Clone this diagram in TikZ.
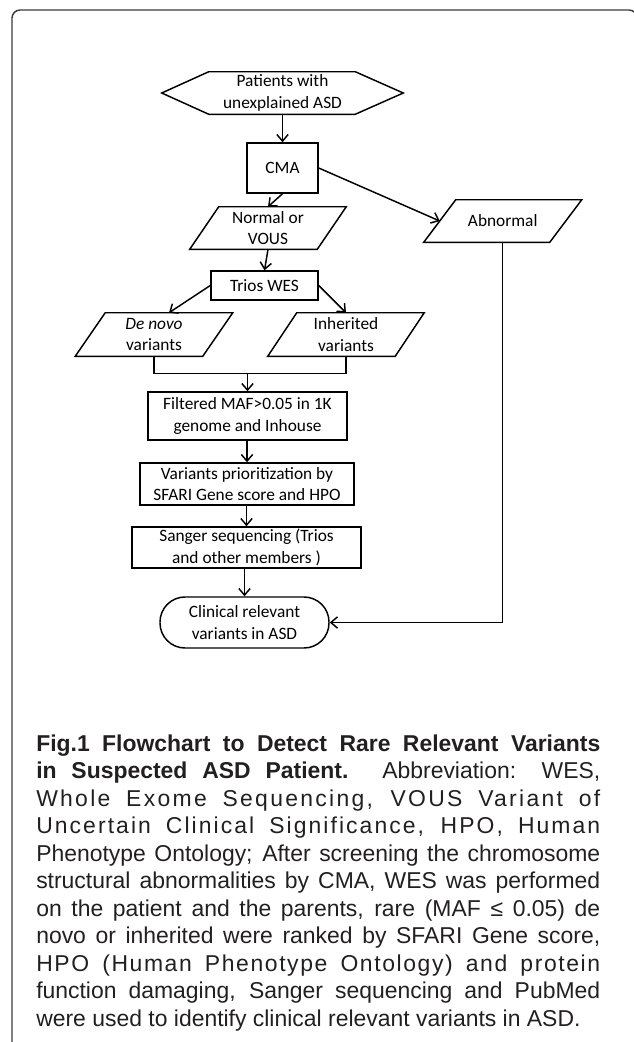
\documentclass[tikz,border=0pt]{standalone}
\usepackage{fontspec}
\setmainfont{Carlito}
\newfontfamily\capfont{Liberation Sans}
\usetikzlibrary{calc,arrows.meta}
\definecolor{capgray}{HTML}{231F20}
\definecolor{framegray}{HTML}{3C3C3C}
\newcommand\paral[2]{\draw[line] ($(#1.north west)+(#2,0)$) -- ($(#1.north east)+(#2,0)$) -- ($(#1.south east)+(-#2,0)$) -- ($(#1.south west)+(-#2,0)$) -- cycle;}
\newcommand\capw{423pt}
\begin{document}
\begin{tikzpicture}[x=0.75pt,y=-0.75pt,
  line/.style={line width=1.1pt, draw=black},
  arr/.style={line, -{Straight Barb[length=5pt,width=8.5pt,line width=1.1pt]}},
  sz/.style 2 args={minimum width=#1*0.75pt, minimum height=#2*0.75pt},
  txt/.style={inner sep=0pt, align=center, font=\fontsize{13}{16}\selectfont},
  box/.style={txt, draw, line width=1.1pt},
  capline/.style={anchor=base west, inner sep=0pt, text=capgray, font=\capfont\fontsize{17.2}{20}\selectfont},
]
\useasboundingbox (0,0) rectangle (633,1042);
% frame
\draw[framegray, line width=1.1pt, rounded corners=6pt] (12,1060) -- (12,10) -- (637,10) -- (637,40);

% nodes
\node[txt, sz={241}{42}] (pat) at (282.5,93) {Patients with\\unexplained ASD};
\draw[line] (pat.west) -- ($(pat.north west)+(47,0)$) -- ($(pat.north east)+(-48,0)$) -- (pat.east) -- ($(pat.south east)+(-48,0)$) -- ($(pat.south west)+(47,0)$) -- cycle;

\node[box, sz={71}{50}] (cma) at (282.5,168) {CMA};
\node[txt, sz={125.5}{42}] (abn) at (502.75,221) {Abnormal};
\paral{abn}{16}
\node[txt, sz={127}{42}] (nor) at (268,228) {Normal or\\VOUS};
\paral{nor}{14.5}
\node[box, sz={107}{29}] (trio) at (264.5,285.5) {Trios WES};
\node[txt, sz={127}{43}] (dn) at (154,334.5) {\textit{De novo}\\variants};
\paral{dn}{15}
\node[txt, sz={127}{43}] (inh) at (346,334.5) {Inherited\\variants};
\paral{inh}{14.5}
\node[box, sz={199}{48}] (filt) at (247.5,416) {Filtered MAF>0.05 in 1K\\genome and Inhouse};
\node[box, sz={214}{42}] (var) at (247,484) {Variants prioritization by\\SFARI Gene score and HPO};
\node[box, sz={229}{41}] (sang) at (246.5,547.5) {Sanger sequencing (Trios\\and other members )};
\node[box, sz={169}{51}, rounded corners=18.75pt] (clin) at (244.5,622.5) {Clinical relevant\\variants in ASD};

% connectors
\draw[arr] (pat.south) -- (cma.north);
\draw[arr] (cma.south) -- (nor.north);
\draw[arr] (cma.east) -- (abn.west);
\draw[arr] (nor.south) -- (trio.north);
\draw[arr] (trio.west) -- ($(dn.north)+(15,0)$);
\draw[arr] (trio.east) -- (inh.north);
\coordinate (jl) at ($(dn.south)+(0,17)$);
\coordinate (jm) at (filt.north |- jl);
\draw[line] (dn.south) -- (jl) -- (inh.south |- jl) -- (inh.south);
\draw[arr] (jm) -- (filt.north);
\draw[arr] (var.north |- filt.south) -- (var.north);
\draw[arr] (sang.north |- var.south) -- (sang.north);
\draw[arr] (clin.north |- sang.south) -- (clin.north);
\draw[arr] (abn.south) |- (clin.east);

% caption
\node[capline] (c1) at (36,751.0) {\makebox[\capw][s]{\bfseries Fig.1 Flowchart to Detect Rare Relevant Variants}};
\node[capline] (c2) at (36,778.5) {\makebox[\capw][s]{\textbf{in Suspected ASD Patient.} Abbreviation: WES,}};
\node[capline] (c3) at (36,806.0) {\makebox[\capw][s]{\addfontfeatures{LetterSpace=10}Whole Exome Sequencing, VOUS Variant of}};
\node[capline] (c4) at (36,833.5) {\makebox[\capw][s]{\addfontfeatures{LetterSpace=9}Uncertain Clinical Significance, HPO, Human}};
\node[capline] (c5) at (36,861.0) {\makebox[\capw][s]{Phenotype Ontology; After screening the chromosome}};
\node[capline] (c6) at (36,888.5) {\makebox[\capw][s]{structural abnormalities by CMA, WES was performed}};
\node[capline] (c7) at (36,916.0) {\makebox[\capw][s]{on the patient and the parents, rare (MAF ≤ 0.05) de}};
\node[capline] (c8) at (36,943.5) {\makebox[\capw][s]{novo or inherited were ranked by SFARI Gene score,}};
\node[capline] (c9) at (36,971.0) {\makebox[\capw][s]{\addfontfeatures{LetterSpace=7}HPO (Human Phenotype Ontology) and protein}};
\node[capline] (c10) at (36,998.5) {\makebox[\capw][s]{function damaging, Sanger sequencing and PubMed}};
\node[capline] (c11) at (36,1026.0) {were used to identify clinical relevant variants in ASD.};
\end{tikzpicture}
\end{document}
